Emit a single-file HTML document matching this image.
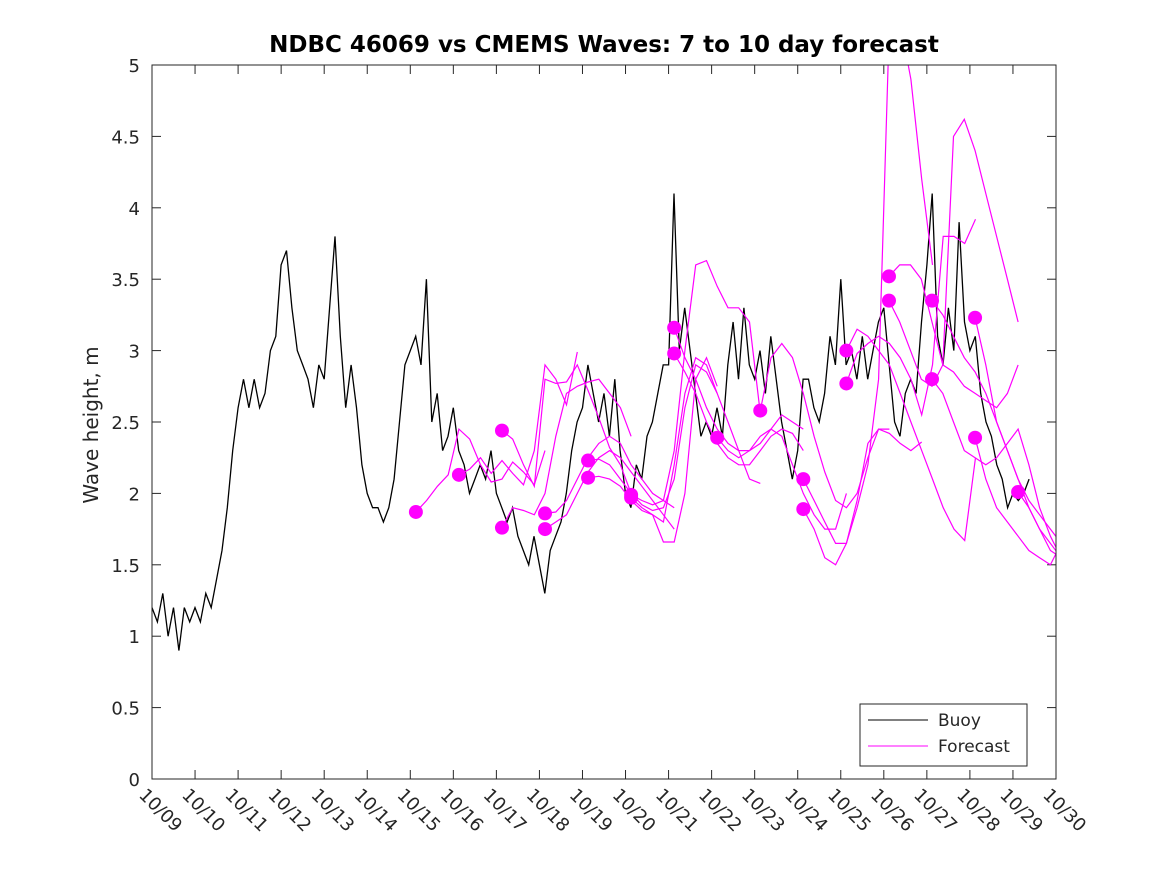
<!DOCTYPE html>
<html><head><meta charset="utf-8"><style>
body{margin:0;background:#fff}
svg text{font-family:"DejaVu Sans","Liberation Sans",sans-serif;fill:#262626}
</style></head><body>
<svg id="chart" width="1167" height="875" viewBox="0 0 1167 875" xmlns="http://www.w3.org/2000/svg">
<defs><clipPath id="clip"><rect x="152" y="65" width="904" height="714"/></clipPath></defs>
<rect width="1167" height="875" fill="#fff"/>
<text x="604" y="52" text-anchor="middle" font-size="23" font-weight="bold" style="fill:#000">NDBC 46069 vs CMEMS Waves: 7 to 10 day forecast</text>
<text transform="translate(98,425) rotate(-90)" text-anchor="middle" font-size="20">Wave height, m</text>
<g id="axes"></g>
<g id="plot" clip-path="url(#clip)"></g>
<rect x="152" y="65" width="904" height="714" fill="none" stroke="#262626" stroke-width="1"/>
<g>
<rect x="860" y="704" width="167" height="62" fill="#fff" stroke="#262626" stroke-width="1"/>
<line x1="868" y1="720" x2="928" y2="720" stroke="#000" stroke-width="1"/>
<text x="938" y="726" font-size="17">Buoy</text>
<line x1="868" y1="746" x2="928" y2="746" stroke="#ff00ff" stroke-width="1"/>
<text x="938" y="752" font-size="17">Forecast</text>
</g>
</svg>
<script>
const xLabels=["10/09","10/10","10/11","10/12","10/13","10/14","10/15","10/16","10/17","10/18","10/19","10/20","10/21","10/22","10/23","10/24","10/25","10/26","10/27","10/28","10/29","10/30"];
const yTicks=[0,0.5,1,1.5,2,2.5,3,3.5,4,4.5,5];
const buoyStep=0.125;
const buoy=[
1.2,1.1,1.3,1.0,1.2,0.9,1.2,1.1,
1.2,1.1,1.3,1.2,1.4,1.6,1.9,2.3,
2.6,2.8,2.6,2.8,2.6,2.7,3.0,3.1,
3.6,3.7,3.3,3.0,2.9,2.8,2.6,2.9,
2.8,3.3,3.8,3.1,2.6,2.9,2.6,2.2,
2.0,1.9,1.9,1.8,1.9,2.1,2.5,2.9,
3.0,3.1,2.9,3.5,2.5,2.7,2.3,2.4,
2.6,2.3,2.2,2.0,2.1,2.2,2.1,2.3,
2.0,1.9,1.8,1.9,1.7,1.6,1.5,1.7,
1.5,1.3,1.6,1.7,1.8,2.0,2.3,2.5,
2.6,2.9,2.7,2.5,2.7,2.4,2.8,2.3,
2.0,1.9,2.2,2.1,2.4,2.5,2.7,2.9,
2.9,4.1,3.0,3.3,3.0,2.7,2.4,2.5,
2.4,2.6,2.4,2.9,3.2,2.8,3.3,2.9,
2.8,3.0,2.7,3.1,2.8,2.5,2.3,2.1,
2.3,2.8,2.8,2.6,2.5,2.7,3.1,2.9,
3.5,2.9,3.0,2.8,3.1,2.8,3.0,3.2,
3.3,2.9,2.5,2.4,2.7,2.8,2.7,3.2,
3.6,4.1,3.1,2.9,3.3,3.0,3.9,3.2,
3.0,3.1,2.7,2.5,2.4,2.2,2.1,1.9,
2.0,1.95,2.0,2.1];
const fcStep=0.25;
const fcStarts=[6.13,7.13,8.13,8.13,9.13,9.13,10.13,10.13,11.13,11.13,12.13,12.13,13.13,14.13,15.13,15.13,16.13,16.13,17.12,17.12,18.12,18.12,19.12,19.12,20.12];
const fcValues=[
[1.87,1.95,2.05,2.13,2.45,2.38,2.2,2.08,2.1,2.22,2.15,2.06,2.3],
[2.13,2.17,2.25,2.14,2.23,2.14,2.06,2.3,2.9,2.8,2.62,2.99],
[2.44,2.38,2.2,2.05,2.8,2.77,2.78,2.9,2.72,2.53,2.32,2.2,2.0],
[1.76,1.9,1.88,1.85,2.0,2.4,2.7,2.75,2.78,2.8,2.7,2.6,2.4],
[1.86,1.87,1.95,2.1,2.25,2.35,2.4,2.35,2.2,2.1,2.0,1.95,1.9],
[1.75,1.8,1.85,2.0,2.15,2.25,2.3,2.25,2.15,2.05,1.95,1.85,1.75],
[2.23,2.24,2.2,2.1,2.0,1.92,1.88,1.9,2.1,2.6,2.9,2.85,2.7],
[2.11,2.12,2.1,2.05,1.95,1.88,1.85,1.66,1.66,2.0,2.8,2.95,2.75],
[1.99,1.95,1.92,1.95,2.3,3.0,3.6,3.63,3.45,3.3,3.3,3.2,2.56],
[1.97,1.9,1.85,1.8,2.2,2.7,2.95,2.9,2.7,2.5,2.3,2.1,2.07],
[3.16,2.95,2.8,2.6,2.45,2.35,2.3,2.3,2.35,2.45,2.55,2.5,2.45],
[2.98,2.85,2.7,2.5,2.35,2.25,2.2,2.2,2.3,2.4,2.45,2.42,2.3],
[2.39,2.3,2.25,2.3,2.4,2.45,2.4,2.2,2.0,1.85,1.75,1.75,2.0],
[2.58,2.95,3.05,2.95,2.7,2.4,2.15,1.95,1.9,2.0,2.25,2.45,2.45],
[2.10,1.95,1.8,1.65,1.65,1.95,2.35,2.45,2.42,2.35,2.3,2.36],
[1.89,1.75,1.55,1.5,1.65,1.9,2.2,2.8,5.3,5.3,4.9,4.2,3.6],
[3.0,3.15,3.1,3.0,2.9,2.7,2.5,2.3,2.1,1.9,1.75,1.67,2.25],
[2.77,2.98,3.05,3.1,3.05,2.95,2.8,2.55,2.9,3.8,3.8,3.75,3.92],
[3.52,3.6,3.6,3.5,3.2,2.9,2.85,2.75,2.7,2.65,2.6,2.7,2.9],
[3.35,3.2,3.0,2.8,2.75,2.9,4.5,4.62,4.4,4.1,3.8,3.5,3.2],
[3.35,3.25,3.1,2.95,2.85,2.7,2.5,2.3,2.1,1.9,1.75,1.6,1.55],
[2.80,2.7,2.5,2.3,2.25,2.2,2.25,2.35,2.45,2.2,1.9,1.7,1.55],
[3.23,2.9,2.5,2.3,2.1,1.95,1.85,1.75,1.65,1.6,1.55,1.45,1.36],
[2.39,2.1,1.9,1.8,1.7,1.6,1.55,1.5,1.65,1.8,1.85,1.84],
[2.01,1.9,1.75,1.65,1.55]];
const NS="http://www.w3.org/2000/svg";
const X0=152,X1=1056,Y0=779,Y1=65;
function xs(d){return X0+d*(X1-X0)/21;}
function ys(v){return Y0-v*(Y0-Y1)/5;}
function mk(t,a,p){const e=document.createElementNS(NS,t);for(const k in a)e.setAttribute(k,a[k]);p.appendChild(e);return e;}
const axes=document.getElementById('axes'),plot=document.getElementById('plot');
yTicks.forEach(v=>{const y=ys(v);
 const t1=mk('line',{x1:X0,y1:y,x2:X0+9,y2:y,stroke:'#262626'},axes);
 
 
 mk('line',{x1:X1,y1:y,x2:X1-9,y2:y,stroke:'#262626'},axes);
 const tx=mk('text',{x:X0-12,y:y+7,'text-anchor':'end','font-size':'18'},axes);tx.textContent=String(v);
 
 
});
xLabels.forEach((l,i)=>{const x=xs(i);
 const t1=mk('line',{x1:x,y1:Y0,x2:x,y2:Y0-9,stroke:'#262626'},axes);
 
 
 mk('line',{x1:x,y1:Y1,x2:x,y2:Y1+9,stroke:'#262626'},axes);
 const tx=mk('text',{transform:`translate(${x-14},${Y0+17}) rotate(45)`,'font-size':'18'},axes);tx.textContent=l;
 
 
});
let pts=[];buoy.forEach((v,i)=>pts.push(xs(i*buoyStep).toFixed(1)+','+ys(v).toFixed(1)));
const bl=mk('polyline',{points:pts.join(' '),fill:'none',stroke:'#000','stroke-width':'1.3'},plot);


fcValues.forEach((arr,j)=>{const s=fcStarts[j];
 const p=arr.map((v,i)=>xs(s+i*fcStep).toFixed(1)+','+ys(v).toFixed(1)).join(' ');
 const fl=mk('polyline',{points:p,fill:'none',stroke:'#ff00ff','stroke-width':'1.2'},plot);
 
 
});
fcValues.forEach((arr,j)=>{
 const c=mk('circle',{cx:xs(fcStarts[j]),cy:ys(arr[0]),r:7,fill:'#ff00ff'},plot);
 
 
});
</script>
</body></html>
